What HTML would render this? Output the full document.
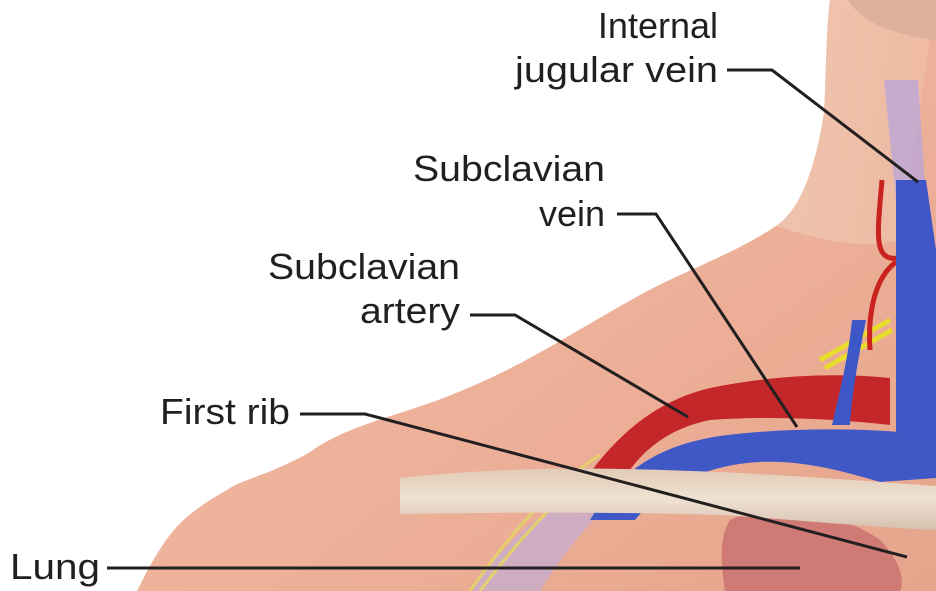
<!DOCTYPE html>
<html><head><meta charset="utf-8"><style>
html,body{margin:0;padding:0;background:#fff;}
svg{display:block;}
text{font-family:"Liberation Sans",Arial,sans-serif;font-size:36px;fill:#231f20;}
</style></head><body>
<svg width="936" height="591" viewBox="0 0 936 591" xmlns="http://www.w3.org/2000/svg">
<defs>
<linearGradient id="skin" x1="0" y1="0" x2="1" y2="1">
<stop offset="0" stop-color="#f4c8b2"/><stop offset="0.5" stop-color="#eeb29a"/><stop offset="1" stop-color="#e6a48c"/>
</linearGradient>
<linearGradient id="neck" x1="0" y1="0" x2="1" y2="0">
<stop offset="0" stop-color="#f0d0bc"/><stop offset="1" stop-color="#f0c0a8"/>
</linearGradient>
<linearGradient id="rib" x1="0" y1="0" x2="0" y2="1">
<stop offset="0" stop-color="#e2cbb6"/><stop offset="0.5" stop-color="#efe2d2"/><stop offset="1" stop-color="#d6bfae"/>
</linearGradient>
<linearGradient id="ribfade" x1="0" y1="0" x2="1" y2="0">
<stop offset="0" stop-color="#fff" stop-opacity="0"/><stop offset="0.2" stop-color="#fff" stop-opacity="1"/>
</linearGradient>
<mask id="rm"><rect x="0" y="0" width="936" height="591" fill="url(#ribfade)"/></mask>
</defs>
<!-- body -->
<path d="M830,0 C826,30 826,80 824,113 C815,170 800,210 776,226 C740,250 700,265 657,286 C620,305 580,330 537,354 C500,375 455,395 418,407 C380,420 340,430 310,452 C270,475 240,480 227,490 C200,505 180,520 167,539 C155,555 145,575 137,591 L936,591 L936,0 Z" fill="url(#skin)"/>
<path d="M830,0 C826,30 826,80 824,113 C815,170 800,210 776,226 C820,240 860,250 900,240 L936,0 Z" fill="url(#neck)" opacity="0.6"/>
<!-- head -->
<path d="M848,0 C860,20 890,35 936,40 L936,0 Z" fill="#dcb09a"/>
<!-- lung -->
<path d="M730,520 C760,505 840,510 880,540 C900,560 905,580 900,591 L725,591 C720,560 720,535 730,520 Z" fill="#cf7a74"/>
<!-- pale vein lower left -->
<path d="M470,591 C500,550 530,520 560,505 L610,505 C580,530 560,560 540,591 Z" fill="#c2aed6" opacity="0.7"/>
<!-- nerves -->
<path d="M470,591 C520,520 560,480 600,455 M480,591 C530,525 570,485 610,462" stroke="#e6cf6a" stroke-width="3" fill="none"/>
<path d="M820,360 L890,320 M825,368 L892,330" stroke="#e8dc2c" stroke-width="5" fill="none"/>
<!-- IJV pale top -->
<path d="M884,80 L918,80 L926,200 L896,200 Z" fill="#b8a6da" opacity="0.75"/>
<!-- small red branch -->
<path d="M882,180 C878,230 872,262 898,258 M896,262 C872,280 868,320 870,350" stroke="#c8231e" stroke-width="5" fill="none"/>
<!-- artery -->
<path d="M585,480 C620,430 660,400 710,388 C770,376 830,372 890,378 L890,425 C830,418 760,416 710,420 C670,428 640,450 620,485 Z" fill="#c3272a"/>
<!-- vertical veins -->
<path d="M896,180 L926,180 L936,250 L936,470 L896,470 Z" fill="#3f55c8"/>
<path d="M852,320 C848,360 840,390 832,425 L850,425 C852,390 860,350 866,320 Z" fill="#3e57c6"/>
<!-- subclavian vein -->
<path d="M590,520 C620,470 660,445 720,436 C780,428 850,428 900,432 L936,436 L936,478 L880,482 C840,470 800,460 760,462 C700,465 660,490 635,520 Z" fill="#4058c6"/>
<!-- rib -->
<path mask="url(#rm)" d="M400,478 C520,465 620,468 720,472 C800,476 880,482 936,486 L936,530 C880,528 800,520 720,515 C620,512 520,512 400,514 Z" fill="url(#rib)"/>
<!-- lines -->
<g stroke="#231f20" stroke-width="3" fill="none">
<polyline points="727,70 772,70 918,182"/>
<polyline points="617,214 656,214 797,427"/>
<polyline points="470,315 515,315 688,417"/>
<polyline points="300,414 365,414 907,557"/>
<polyline points="107,568 800,568"/>
</g>
<!-- labels -->
<text x="718" y="38" text-anchor="end">Internal</text>
<text x="718" y="82" text-anchor="end" textLength="203" lengthAdjust="spacingAndGlyphs">jugular vein</text>
<text x="605" y="181" text-anchor="end" textLength="192" lengthAdjust="spacingAndGlyphs">Subclavian</text>
<text x="605" y="226" text-anchor="end">vein</text>
<text x="460" y="279" text-anchor="end" textLength="192" lengthAdjust="spacingAndGlyphs">Subclavian</text>
<text x="460" y="323" text-anchor="end" textLength="100" lengthAdjust="spacingAndGlyphs">artery</text>
<text x="160" y="424" textLength="130" lengthAdjust="spacingAndGlyphs">First rib</text>
<text x="10" y="579" textLength="90" lengthAdjust="spacingAndGlyphs">Lung</text>
</svg>
</body></html>
